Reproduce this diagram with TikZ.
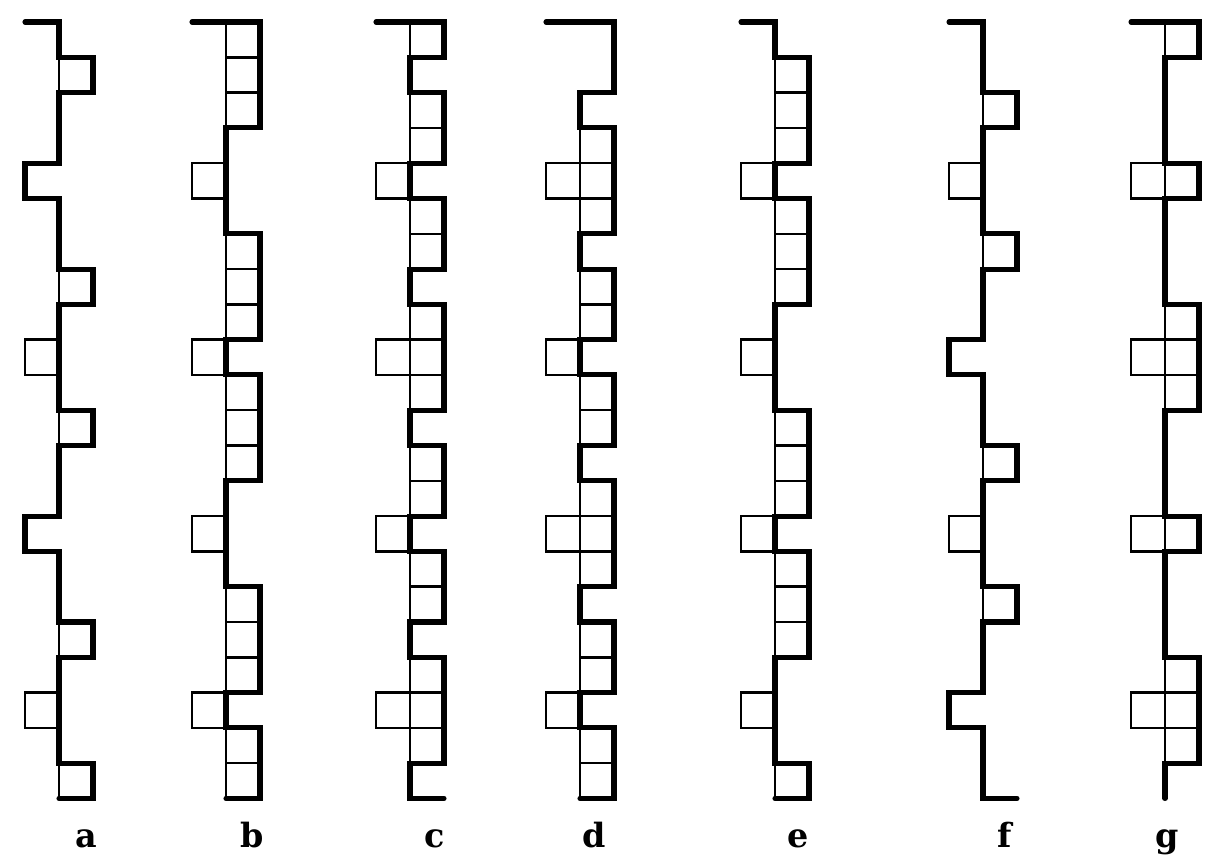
\documentclass[tikz,border=0pt]{standalone}
\usepackage{fontspec}
\newfontfamily\labelfont{DejaVu Serif}

\begin{document}
\begin{tikzpicture}[
      x=0.02cm, y=-0.02cm,
      strand/.style={line width=2.9pt,line join=miter,line cap=round},
      cell/.style={line width=1.4pt},
      lane/.style={x=0.68cm,y=-0.706cm},
      lbl/.style={anchor=base,font={\labelfont\bfseries\fontsize{19}{22}\selectfont}}
    ]
      \useasboundingbox (0,0) rectangle (1229,866);

      % a
      \begin{scope}[shift={(59,22)},lane]
        \foreach \r in {1,7,11,17,21} \draw[cell] (0,\r) rectangle ++(1,1);
        \foreach \r in {9,19} \draw[cell] (-1,\r) rectangle ++(1,1);
        \draw[strand] (-1,0) -- (0,0) -- (0,1) -- (1,1) -- (1,2) -- (0,2) -- (0,4) -- (-1,4) -- (-1,5) -- (0,5)
          -- (0,7) -- (1,7) -- (1,8) -- (0,8) -- (0,11) -- (1,11) -- (1,12) -- (0,12) -- (0,14) -- (-1,14)
          -- (-1,15) -- (0,15) -- (0,17) -- (1,17) -- (1,18) -- (0,18) -- (0,21) -- (1,21) -- (1,22) -- (0,22);
      \end{scope}

      % b
      \begin{scope}[shift={(226,22)},lane]
        \foreach \r in {0,1,2,6,7,8,10,11,12,16,17,18,20,21} \draw[cell] (0,\r) rectangle ++(1,1);
        \foreach \r in {4,9,14,19} \draw[cell] (-1,\r) rectangle ++(1,1);
        \draw[strand] (-1,0) -- (1,0) -- (1,3) -- (0,3) -- (0,6) -- (1,6) -- (1,9) -- (0,9) -- (0,10) -- (1,10)
          -- (1,13) -- (0,13) -- (0,16) -- (1,16) -- (1,19) -- (0,19) -- (0,20) -- (1,20) -- (1,22) -- (0,22);
      \end{scope}

      % c
      \begin{scope}[shift={(410,22)},lane]
        \foreach \r in {0,2,3,5,6,8,9,10,12,13,15,16,18,19,20} \draw[cell] (0,\r) rectangle ++(1,1);
        \foreach \r in {4,9,14,19} \draw[cell] (-1,\r) rectangle ++(1,1);
        \draw[strand] (-1,0) -- (1,0) -- (1,1) -- (0,1) -- (0,2) -- (1,2) -- (1,4) -- (0,4) -- (0,5) -- (1,5)
          -- (1,7) -- (0,7) -- (0,8) -- (1,8) -- (1,11) -- (0,11) -- (0,12) -- (1,12) -- (1,14) -- (0,14)
          -- (0,15) -- (1,15) -- (1,17) -- (0,17) -- (0,18) -- (1,18) -- (1,21) -- (0,21) -- (0,22) -- (1,22);
      \end{scope}

      % d
      \begin{scope}[shift={(580,22)},lane]
        \foreach \r in {3,4,5,7,8,10,11,13,14,15,17,18,20,21} \draw[cell] (0,\r) rectangle ++(1,1);
        \foreach \r in {4,9,14,19} \draw[cell] (-1,\r) rectangle ++(1,1);
        \draw[strand] (-1,0) -- (1,0) -- (1,2) -- (0,2) -- (0,3) -- (1,3) -- (1,6) -- (0,6) -- (0,7) -- (1,7)
          -- (1,9) -- (0,9) -- (0,10) -- (1,10) -- (1,12) -- (0,12) -- (0,13) -- (1,13) -- (1,16) -- (0,16)
          -- (0,17) -- (1,17) -- (1,19) -- (0,19) -- (0,20) -- (1,20) -- (1,22) -- (0,22);
      \end{scope}

      % e
      \begin{scope}[shift={(775,22)},lane]
        \foreach \r in {1,2,3,5,6,7,11,12,13,15,16,17,21} \draw[cell] (0,\r) rectangle ++(1,1);
        \foreach \r in {4,9,14,19} \draw[cell] (-1,\r) rectangle ++(1,1);
        \draw[strand] (-1,0) -- (0,0) -- (0,1) -- (1,1) -- (1,4) -- (0,4) -- (0,5) -- (1,5) -- (1,8) -- (0,8)
          -- (0,11) -- (1,11) -- (1,14) -- (0,14) -- (0,15) -- (1,15) -- (1,18) -- (0,18) -- (0,21) -- (1,21)
          -- (1,22) -- (0,22);
      \end{scope}

      % f
      \begin{scope}[shift={(983,22)},lane]
        \foreach \r in {2,6,12,16} \draw[cell] (0,\r) rectangle ++(1,1);
        \foreach \r in {4,14} \draw[cell] (-1,\r) rectangle ++(1,1);
        \draw[strand] (-1,0) -- (0,0) -- (0,2) -- (1,2) -- (1,3) -- (0,3) -- (0,6) -- (1,6) -- (1,7) -- (0,7)
          -- (0,9) -- (-1,9) -- (-1,10) -- (0,10) -- (0,12) -- (1,12) -- (1,13) -- (0,13) -- (0,16) -- (1,16)
          -- (1,17) -- (0,17) -- (0,19) -- (-1,19) -- (-1,20) -- (0,20) -- (0,22) -- (1,22);
      \end{scope}

      % g
      \begin{scope}[shift={(1165,22)},lane]
        \foreach \r in {0,4,8,9,10,14,18,19,20} \draw[cell] (0,\r) rectangle ++(1,1);
        \foreach \r in {4,9,14,19} \draw[cell] (-1,\r) rectangle ++(1,1);
        \draw[strand] (-1,0) -- (1,0) -- (1,1) -- (0,1) -- (0,4) -- (1,4) -- (1,5) -- (0,5) -- (0,8) -- (1,8)
          -- (1,11) -- (0,11) -- (0,14) -- (1,14) -- (1,15) -- (0,15) -- (0,18) -- (1,18) -- (1,21) -- (0,21)
          -- (0,22);
      \end{scope}

      \node[lbl] (labA) at (86,847) {a};
      \node[lbl] (labB) at (252,847) {b};
      \node[lbl] (labC) at (435,847) {c};
      \node[lbl] (labD) at (594,847) {d};
      \node[lbl] (labE) at (798,847) {e};
      \node[lbl] (labF) at (1005,847) {f};
      \node[lbl] (labG) at (1167,847) {g};
    \end{tikzpicture}
\end{document}
